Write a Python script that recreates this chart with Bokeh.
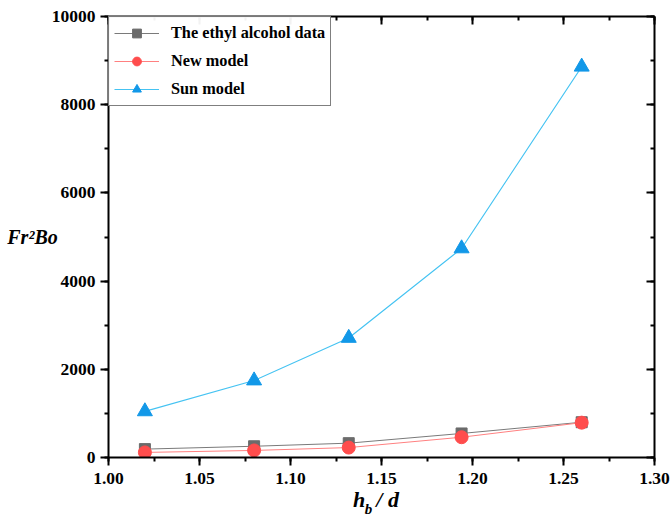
from bokeh.plotting import figure
from bokeh.models import (Range1d, LinearAxis, SingleIntervalTicker, NumeralTickFormatter,
                          Legend, LegendItem, CustomJSTickFormatter, FixedTicker)
from bokeh.embed import file_html
from bokeh.resources import INLINE

# ---- data ----
hb_d = [1.02, 1.08, 1.132, 1.194, 1.26]
ethyl = [190, 255, 325, 545, 800]
new_model = [115, 160, 225, 460, 790]
sun_model = [1045, 1745, 2710, 4740, 8860]
series_names = ["The ethyl alcohol data", "New model", "Sun model"]
NB = "\u00a0"
x_title_main = "h" + NB * 2 + "/ d" + NB * 2
x_title_sub = "b" + NB * 7
y_title = "Fr\u00b2Bo"

FONT = "Liberation Serif"

p = figure(width=672, height=519, output_backend="svg", toolbar_location=None,
           x_range=Range1d(1.0, 1.3), y_range=Range1d(0, 10000),
           min_border_left=108, min_border_right=18, min_border_top=16, min_border_bottom=61)
p.outline_line_color = None
p.grid.visible = False
p.background_fill_color = "white"

xt = SingleIntervalTicker(interval=0.05, num_minor_ticks=2)
yt = SingleIntervalTicker(interval=2000, num_minor_ticks=2)

for ax in p.xaxis:
    ax.ticker = xt
    ax.formatter = NumeralTickFormatter(format="0.00")
for ax in p.yaxis:
    ax.ticker = yt

for ax in list(p.xaxis) + list(p.yaxis):
    ax.axis_line_width = 2
    ax.axis_line_color = "black"
    ax.major_tick_line_width = 2
    ax.minor_tick_line_width = 2
    ax.major_tick_in = 0
    ax.major_tick_out = 8
    ax.minor_tick_in = 0
    ax.minor_tick_out = 4
    ax.major_label_text_font = FONT
    ax.major_label_text_font_style = "bold"
    ax.major_label_text_font_size = "17.5px"
    ax.major_label_text_color = "black"
p.xaxis.major_label_standoff = 7
p.yaxis.major_label_standoff = 5

# y-axis title, horizontal
p.yaxis.axis_label = y_title
p.yaxis.axis_label_orientation = "horizontal"
p.yaxis.axis_label_text_font = FONT
p.yaxis.axis_label_text_font_style = "bold italic"
p.yaxis.axis_label_text_font_size = "20px"
p.yaxis.axis_label_text_color = "black"
p.yaxis.axis_label_standoff = -9

# x-axis title (main part)
p.xaxis.axis_label = x_title_main
p.xaxis.axis_label_text_font = FONT
p.xaxis.axis_label_text_font_style = "bold italic"
p.xaxis.axis_label_text_font_size = "22px"
p.xaxis.axis_label_text_color = "black"
p.xaxis.axis_label_standoff = 0

# subscript "b" via a bare axis below the main one
subax = LinearAxis(ticker=FixedTicker(ticks=[]), axis_line_color=None,
                   major_tick_in=0, major_tick_out=0, minor_tick_in=0, minor_tick_out=0,
                   major_label_standoff=0,
                   axis_label=x_title_sub, axis_label_text_font=FONT,
                   axis_label_text_font_style="bold italic", axis_label_text_color="black",
                   axis_label_text_font_size="15px", axis_label_standoff=-14)
p.add_layout(subax, "below")

blank = CustomJSTickFormatter(code="return '';")
top = LinearAxis(ticker=xt, formatter=blank, major_label_standoff=0,
                 axis_line_width=2, major_tick_line_width=2, minor_tick_line_width=2,
                 major_tick_in=8, major_tick_out=0, minor_tick_in=4, minor_tick_out=0)
right = LinearAxis(ticker=yt, formatter=blank, major_label_standoff=0,
                   axis_line_width=2, major_tick_line_width=2, minor_tick_line_width=2,
                   major_tick_in=8, major_tick_out=0, minor_tick_in=4, minor_tick_out=0)
p.add_layout(top, "above")
p.add_layout(right, "right")

# ---- series ----
l1 = p.line(hb_d, ethyl, line_color="#7a7a7a", line_width=1)
s1 = p.scatter(hb_d, ethyl, marker="square", size=11, fill_color="#6b6b6b", line_color="#6b6b6b")
l2 = p.line(hb_d, new_model, line_color="#ff8080", line_width=1)
s2 = p.scatter(hb_d, new_model, marker="circle", size=13, fill_color="#ff4d4d", line_color="#ff4d4d")
l3 = p.line(hb_d, sun_model, line_color="#45c3f2", line_width=1.2)
s3 = p.scatter(hb_d, sun_model, marker="triangle", size=15, fill_color="#1298e8", line_color="#1298e8")

legend = Legend(items=[
    LegendItem(label=series_names[0], renderers=[l1, s1]),
    LegendItem(label=series_names[1], renderers=[l2, s2]),
    LegendItem(label=series_names[2], renderers=[l3, s3]),
], location="top_left")
legend.margin = 0
legend.border_line_color = "black"
legend.border_line_width = 1.5
legend.label_text_font = FONT
legend.label_text_font_style = "bold"
legend.label_text_font_size = "16.3px"
legend.label_text_color = "black"
legend.glyph_width = 45
legend.label_standoff = 12
legend.padding = 5
legend.spacing = 6
legend.label_height = 22
legend.glyph_height = 22
p.add_layout(legend)

open("out.html", "w").write(file_html(p, INLINE))
